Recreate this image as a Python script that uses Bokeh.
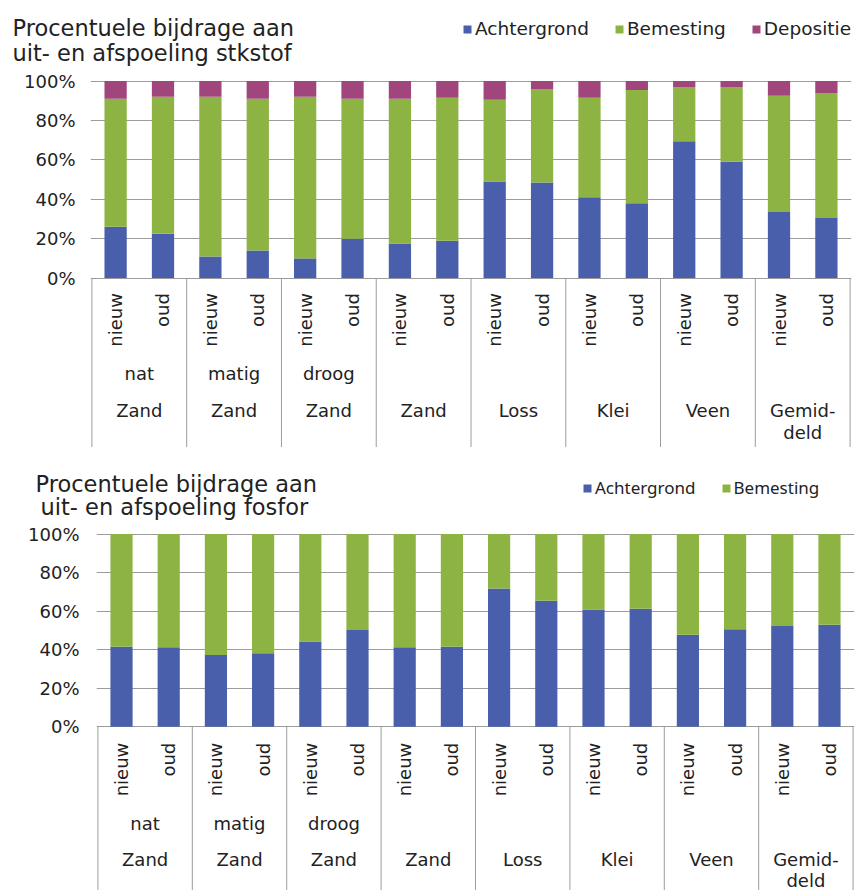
import numpy as np
from bokeh.plotting import figure
from bokeh.models import Range1d, FixedTicker, Legend, LegendItem, ColumnDataSource
from bokeh.layouts import column
from bokeh.embed import file_html
from bokeh.resources import INLINE
from bokeh.core.properties import value

# ---------------- data ----------------
periods = ["nieuw", "oud"]
group_sub = ["nat", "matig", "droog", "", "", "", "", ""]
group_main = ["Zand", "Zand", "Zand", "Zand", "Loss", "Klei", "Veen", "Gemid-"]
group_main2 = ["", "", "", "", "", "", "", "deld"]

yticks = [0, 20, 40, 60, 80, 100]
ytick_labels = ["0%", "20%", "40%", "60%", "80%", "100%"]

# stikstof (N)
n_achtergrond = [26, 22.5, 11, 14, 10, 20, 17.5, 19, 49, 48.5, 41, 38, 69.5, 59, 33.5, 30.5]
n_bemesting = [65, 69.5, 81, 77, 82, 71, 73.5, 72.5, 41.5, 47.5, 50.5, 57.5, 27.5, 38, 59, 63.5]
n_depositie = [9, 8, 8, 9, 8, 9, 9, 8.5, 9.5, 4, 8.5, 4.5, 3, 3, 7.5, 6]

# fosfor (P)
p_achtergrond = [41.5, 41.2, 37.2, 38.2, 44.3, 50.2, 41.2, 41.5, 71.8, 65.4, 60.9, 61.2, 47.7, 50.6, 52.3, 52.9]
p_bemesting = [58.5, 58.8, 62.8, 61.8, 55.7, 49.8, 58.8, 58.5, 28.2, 34.6, 39.1, 38.8, 52.3, 49.4, 47.7, 47.1]

title_n = ["Procentuele bijdrage aan", "uit- en afspoeling stkstof"]
title_p = ["Procentuele bijdrage aan", "uit- en afspoeling fosfor"]
series_names = ["Achtergrond", "Bemesting", "Depositie"]

# ---------------- style ----------------
BLUE = "#4a5fab"
GREEN = "#8db443"
PURPLE = "#a1467d"
GRID = "#9c9c9c"
TXT = "#222222"
FONT = "DejaVu Sans"
W = 859

n_bars = len(periods) * len(group_main)
bar_x = [i + 0.5 for i in range(n_bars)]
bar_period = [periods[i % len(periods)] for i in range(n_bars)]
group_x = [len(periods) * g + len(periods) / 2 for g in range(len(group_main))]
bounds = [len(periods) * g for g in range(len(group_main) + 1)]


def make_header(height, titles, title_xy, names, colors, legend_loc, legend_font,
                legend_size):
    h = figure(width=W, height=height, output_backend="svg", toolbar_location=None,
               x_range=Range1d(0, W), y_range=Range1d(height, 0),
               x_axis_location=None, y_axis_location=None, min_border=0)
    h.frame_align = False
    h.outline_line_color = None
    h.grid.visible = False
    xs = [xy[0] for xy in title_xy]
    ys = [xy[1] for xy in title_xy]
    h.text(x=xs, y=ys, text=titles, text_align="left", text_baseline="alphabetic",
           text_font=value(FONT), text_font_size="22.5px", text_color=TXT)
    # zero-size proxy glyphs, only used to give the legend its colour swatches
    rends = [h.vbar(x=[0], top=[0], bottom=[0], width=0, fill_color=c, line_color=None)
             for c in colors]
    items = [LegendItem(label=nm, renderers=[r]) for nm, r in zip(names, rends)]
    leg = Legend(items=items, orientation="horizontal", location=legend_loc,
                 glyph_width=10, glyph_height=10, label_standoff=3, spacing=25,
                 padding=0, margin=0, border_line_color=None, background_fill_alpha=0,
                 label_text_font=legend_font, label_text_font_size=legend_size,
                 label_text_color=TXT, label_height=12)
    h.add_layout(leg, "center")
    return h


def make_chart(stack_values, colors, names, height, border_left, border_right,
               y_bottom, standoff, label_offsets):
    p = figure(width=W, height=height, output_backend="svg", toolbar_location=None,
               x_range=Range1d(-0.03, n_bars + 0.03), y_range=Range1d(y_bottom, 100.3),
               x_axis_location=None, min_border_left=border_left, min_border_right=border_right,
               min_border_top=10, min_border_bottom=0)
    p.frame_align = False
    p.outline_line_color = None

    data = {"x": bar_x}
    for nm, vals in zip(names, stack_values):
        data[nm] = vals
    src = ColumnDataSource(data)
    p.vbar_stack(names, x="x", width=0.47, color=colors, line_color=None, source=src)

    ax = p.yaxis[0]
    ax.ticker = FixedTicker(ticks=yticks)
    ax.major_label_overrides = {t: l for t, l in zip(yticks, ytick_labels)}
    ax.axis_line_color = None
    ax.major_tick_line_color = None
    ax.minor_tick_line_color = None
    ax.major_label_standoff = standoff
    ax.major_label_text_font = FONT
    ax.major_label_text_font_size = "18px"
    ax.major_label_text_color = TXT

    p.xgrid.visible = False
    p.ygrid.ticker = FixedTicker(ticks=yticks)
    p.ygrid.grid_line_color = GRID
    p.ygrid.grid_line_width = 1

    # group separators
    p.segment(x0=bounds, y0=[0] * len(bounds), x1=bounds, y1=[y_bottom] * len(bounds),
              line_color=GRID, line_width=1)

    # category labels
    off_rot, off1, off2, off3 = label_offsets
    p.text(x=bar_x, y=[0] * n_bars, text=bar_period, angle=np.pi / 2,
           text_align="right", text_baseline="middle", y_offset=off_rot,
           text_font=value(FONT), text_font_size="18px", text_color=TXT)
    for row, off in ((group_sub, off1), (group_main, off2), (group_main2, off3)):
        p.text(x=group_x, y=[0] * len(group_x), text=row, text_align="center",
               text_baseline="alphabetic", y_offset=off,
               text_font=value(FONT), text_font_size="18px", text_color=TXT)
    return p


head_top = make_header(70, title_n, [(12, 27), (12, 52)], series_names,
                       [BLUE, GREEN, PURPLE], (462, 31), FONT, "18.5px")
chart_top = make_chart([n_achtergrond, n_bemesting, n_depositie], [BLUE, GREEN, PURPLE],
                       series_names, height=377, border_left=90, border_right=8,
                       y_bottom=-86.0, standoff=9, label_offsets=(15, 95, 132, 154))

head_bot = make_header(76, title_p, [(35, 36), (40, 59)], series_names[:2],
                       [BLUE, GREEN], (582, 24), "Noto Sans", "17px")
chart_bot = make_chart([p_achtergrond, p_bemesting], [BLUE, GREEN],
                       series_names[:2], height=367, border_left=96, border_right=5,
                       y_bottom=-85.0, standoff=11, label_offsets=(16, 97, 133, 154))

layout = column(head_top, chart_top, head_bot, chart_bot, spacing=0)
open("out.html", "w").write(file_html(layout, INLINE))
